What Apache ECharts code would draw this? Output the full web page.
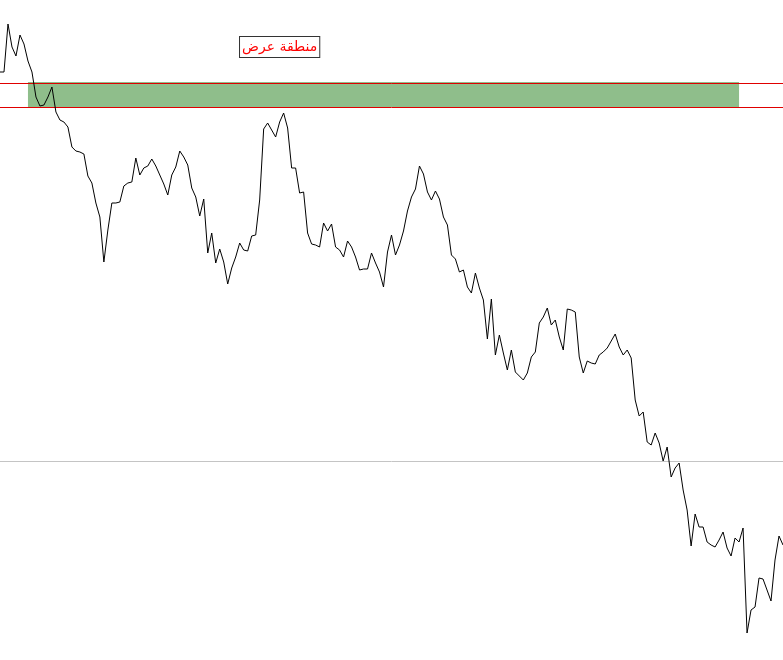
<!DOCTYPE html>
<html>
<head>
<meta charset="utf-8">
<script src="https://cdn.jsdelivr.net/npm/echarts@6/dist/echarts.min.js"></script>
<style>
html,body{margin:0;padding:0;background:#fff;}
#chart{width:783px;height:660px;}
</style>
</head>
<body>
<div id="chart"></div>
<script>
// Price series
const prices = [
588,588,636,613,604,625,616,599,588,563,
554,555,563,573,548,540,538,533,513,509,
508,506,484,477,457,443,398,430,457,457,
458,474,477,478,502,485,492,494,501,494,
485,476,465,485,493,509,503,495,472,463,
444,461,407,427,397,411,398,376,392,403,
417,410,409,424,425,460,531,537,530,523,
538,547,532,492,492,467,468,427,416,415,
413,437,429,436,413,410,403,419,413,403,
390,391,391,407,397,388,373,408,425,405,
415,429,449,463,471,494,486,468,460,469,
461,443,435,405,401,388,390,373,367,387,
372,360,321,361,305,325,307,290,310,288,
284,280,287,303,308,337,343,352,335,340,
323,310,351,350,348,303,287,299,297,296,
305,308,312,319,326,313,305,310,302,260,
244,248,218,215,227,217,199,213,183,192,
197,170,150,114,146,133,133,118,115,113,
120,128,112,104,122,118,132,27,50,53,
82,81,70,59,100,124,115
];
const categories = prices.map((_, i) => String(i));

// Supply zone
const zoneStart = 7;
const zoneEnd = 185;
const zoneTop = 578;
const zoneBottom = 553;
const zoneLines = [577, 553];
const refLevel = [199];
const zoneLabel = 'منطقة عرض';
const labelIndex = 70;
const labelValue = 613;

const chart = echarts.init(document.getElementById('chart'), null, {renderer: 'canvas'});
chart.setOption({
  animation: false,
  backgroundColor: '#ffffff',
  grid: {left: -1, right: -1, top: 0, bottom: 0, containLabel: false},
  xAxis: {
    type: 'category', data: categories, boundaryGap: false,
    show: false
  },
  yAxis: {
    type: 'value', min: 0, max: 660, show: false, splitLine: {show: false}
  },
  series: [
    {
      type: 'line', data: prices, showSymbol: false, symbol: 'none',
      lineStyle: {color: '#000', width: 1}, z: 5,
      markArea: {
        silent: true,
        itemStyle: {color: '#8fbe8b', opacity: 1},
        data: [[{xAxis: categories[zoneStart], yAxis: zoneTop}, {xAxis: categories[zoneEnd], yAxis: zoneBottom}]]
      }
    },
    {
      type: 'line', data: [], z: 6,
      markLine: {
        silent: true, symbol: ['none', 'none'], label: {show: false},
        lineStyle: {color: '#e00000', width: 1, type: 'solid'},
        data: zoneLines.map(v => ({yAxis: v}))
      }
    },
    {
      type: 'line', data: [], z: 1,
      markLine: {
        silent: true, symbol: ['none', 'none'], label: {show: false},
        lineStyle: {color: '#c4c4c4', width: 1, type: 'solid'},
        data: refLevel.map(v => ({yAxis: v}))
      }
    },
    {
      type: 'line', data: [], z: 10,
      markPoint: {
        symbol: 'rect', symbolSize: 0, silent: true,
        label: {
          show: true, position: 'inside', formatter: zoneLabel,
          color: '#ff0000', fontSize: 14, fontFamily: 'DejaVu Sans',
          backgroundColor: '#ffffff', borderColor: '#333', borderWidth: 1,
          padding: [3, 2, 3, 2]
        },
        data: [{coord: [categories[labelIndex], labelValue]}]
      }
    }
  ]
});
</script>
</body>
</html>
